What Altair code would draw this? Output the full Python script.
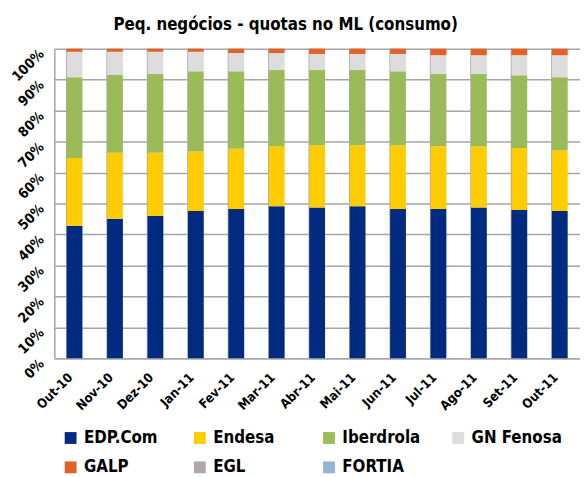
import altair as alt
import pandas as pd

months = ["Out-10", "Nov-10", "Dez-10", "Jan-11", "Fev-11", "Mar-11", "Abr-11",
          "Mai-11", "Jun-11", "Jul-11", "Ago-11", "Set-11", "Out-11"]
series = ["EDP.Com", "Endesa", "Iberdrola", "GN Fenosa", "GALP", "EGL", "FORTIA"]
colors = ["#002B80", "#FFCC00", "#9BBB59", "#DDDDDD", "#E46125", "#B3A8A8", "#95B3D7"]

edp = [42.8, 45.1, 46.0, 47.6, 48.2, 49.1, 48.7, 49.1, 48.2, 48.2, 48.7, 47.9, 47.6]
endesa = [21.9, 21.3, 20.4, 19.2, 19.5, 19.4, 20.1, 19.7, 20.6, 20.3, 19.8, 20.0, 19.6]
iberdrola = [26.1, 25.1, 25.4, 25.9, 25.0, 24.6, 24.3, 24.3, 23.9, 23.3, 23.3, 23.5, 23.6]
gn_fenosa = [8.2, 7.5, 7.2, 6.3, 5.9, 5.5, 5.2, 5.2, 5.6, 6.1, 6.1, 6.5, 7.1]
galp = [1.0, 1.0, 1.0, 1.0, 1.4, 1.4, 1.7, 1.7, 1.7, 2.1, 2.1, 2.1, 2.1]
egl = [0.0, 0.0, 0.0, 0.0, 0.0, 0.0, 0.0, 0.0, 0.0, 0.0, 0.0, 0.0, 0.0]
fortia = [0.0, 0.0, 0.0, 0.0, 0.0, 0.0, 0.0, 0.0, 0.0, 0.0, 0.0, 0.0, 0.0]

values = [edp, endesa, iberdrola, gn_fenosa, galp, egl, fortia]
rows = []
for si, (s, vals) in enumerate(zip(series, values)):
    for m, v in zip(months, vals):
        rows.append({"month": m, "series": s, "value": v, "order": si})
df = pd.DataFrame(rows)

FONT = "DejaVu Sans Condensed, Liberation Sans, sans-serif"
W, H = 533, 314

x_enc = alt.X("month:N", sort=months, title=None,
              scale=alt.Scale(paddingInner=0.61, paddingOuter=0.305),
              axis=alt.Axis(labelAngle=315, labelAlign="right", labelBaseline="middle",
                            labelFont=FONT, labelFontSize=13, labelFontWeight="bold",
                            labelColor="#000000", ticks=False, labelPadding=17,
                            labelOffset=-4, labelOverlap=False,
                            domainColor="#A6A6A6", domainWidth=1.5, grid=False))

bars = alt.Chart(df).mark_bar(size=16).encode(
    x=x_enc,
    y=alt.Y("value:Q", stack="normalize", title=None,
            scale=alt.Scale(domain=[0, 1]),
            axis=alt.Axis(format=".0%", values=[i / 10 for i in range(11)],
                          labelAngle=315, labelAlign="right", labelBaseline="middle",
                          labelFont=FONT, labelFontSize=14, labelFontWeight="bold",
                          labelColor="#000000", ticks=False, labelPadding=13,
                          labelOffset=3, labelOverlap=False,
                          grid=True, gridColor="#A6A6A6", gridWidth=1.5,
                          domainColor="#A6A6A6", domainWidth=1.5)),
    color=alt.Color("series:N", sort=series,
                    scale=alt.Scale(domain=series, range=colors),
                    legend=alt.Legend(title=None, orient="none", legendX=8, legendY=H + 72,
                                      columns=4, gridAlign="all", symbolType="square",
                                      symbolSize=144, symbolStrokeWidth=0, labelOffset=5,
                                      labelFont=FONT, labelFontSize=17, labelFontWeight="bold",
                                      labelColor="#000000", columnPadding=17, rowPadding=12,
                                      labelLimit=200, direction="horizontal")),
    order=alt.Order("order:Q", sort="ascending"),
)

grid_df = pd.DataFrame({"month": months})
vgrid = alt.Chart(grid_df).mark_rule(color="#A6A6A6", strokeWidth=1.5).encode(
    x=alt.X("month:N", sort=months, bandPosition=0),
    y=alt.value(0),
    y2=alt.value(H),
)

chart = alt.layer(vgrid, bars).properties(
    width=W, height=H,
    title=alt.TitleParams("Peq. negócios - quotas no ML (consumo)", font=FONT,
                          fontSize=17, fontWeight="bold", color="#000000",
                          anchor="middle", offset=13, dx=-32),
    autosize=alt.AutoSizeParams(type="none"),
    padding={"left": 47, "top": 38, "right": 0, "bottom": 116},
).configure_view(stroke=None)

chart.save("out.html", embed_options={"renderer": "svg", "actions": False})
